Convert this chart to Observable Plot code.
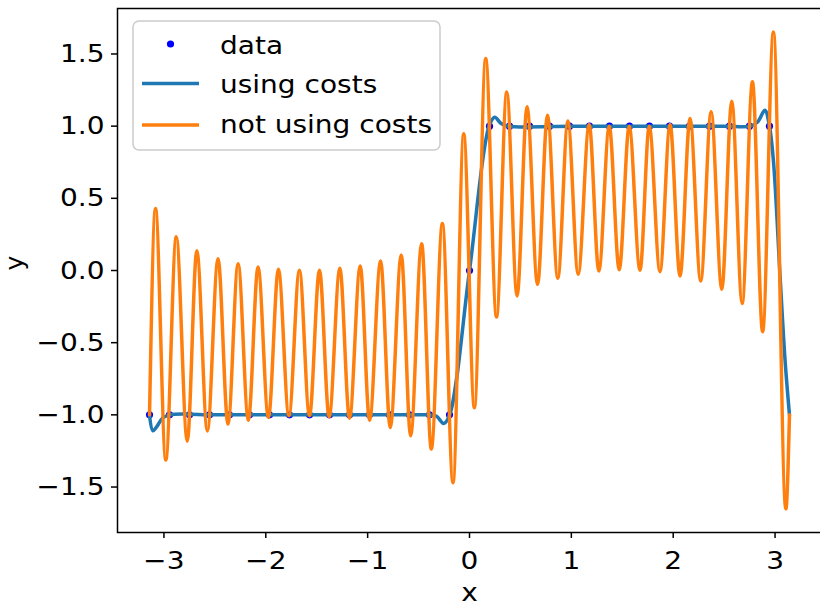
<!DOCTYPE html>
<html>
<head>
<meta charset="utf-8">
<script src="https://cdn.jsdelivr.net/npm/d3@7"></script>
<script src="https://cdn.jsdelivr.net/npm/@observablehq/plot@0.6"></script>
<style>
  html, body { margin: 0; padding: 0; background: #fff; }
  #wrap { position: relative; width: 820px; height: 605px; overflow: hidden; font-family: "DejaVu Sans", sans-serif; }
  #wrap svg { position: absolute; left: 0; top: 0; }
</style>
</head>
<body>
<div id="wrap"></div>
<script>
// ---- tick labels ----
const xTicks = [-3, -2, -1, 0, 1, 2, 3];
const yTicks = [-1.5, -1.0, -0.5, 0.0, 0.5, 1.0, 1.5];

// ---- legend labels ----
const seriesNames = ["data", "using costs", "not using costs"];
const seriesColors = ["#0000ff", "#1f77b4", "#ff7f0e"];

// ---- "data" points ----
const dataX = [-3.1416, -2.9452, -2.7489, -2.5525, -2.3562, -2.1598, -1.9635, -1.7671,
               -1.5708, -1.3744, -1.1781, -0.9817, -0.7854, -0.5890, -0.3927, -0.1963,
                0.0000,  0.1963,  0.3927,  0.5890,  0.7854,  0.9817,  1.1781,  1.3744,
                1.5708,  1.7671,  1.9635,  2.1598,  2.3562,  2.5525,  2.7489,  2.9452];
const dataY = [-1, -1, -1, -1, -1, -1, -1, -1, -1, -1, -1, -1, -1, -1, -1, -1,
                0,  1,  1,  1,  1,  1,  1,  1,  1,  1,  1,  1,  1,  1,  1,  1];

// ---- "using costs" curve ----
const costX = [-3.1416, -3.108, -3.068, -3.017, -2.945, -2.5, -2.0, -1.5, -1.0, -0.6,
               -0.391, -0.323, -0.254, -0.195, 0.0, 0.192, 0.248, 0.307, 0.376,
               1.0, 1.5, 2.0, 2.5, 2.762, 2.831, 2.900, 2.945, 2.984, 3.050, 3.099, 3.1416];
const costY = [-1.0, -1.11, -1.08, -1.025, -1.0, -1.0, -1.0, -1.0, -1.0, -1.0,
               -1.0, -1.01, -1.06, -1.0, 0.0, 1.0, 1.062, 1.02, 1.0,
               1.0, 1.0, 1.0, 1.0, 1.0, 1.03, 1.11, 1.0, 0.76, -0.05, -0.63, -1.0];

// ---- "not using costs" curve: start, peaks/troughs, end ----
const freeX = [-3.1416, -3.083, -2.982, -2.879, -2.771, -2.677, -2.574, -2.469, -2.371, -2.272,
               -2.171, -2.076, -1.974, -1.876, -1.773, -1.670, -1.571, -1.473, -1.378, -1.273,
               -1.178, -1.073, -0.981, -0.873, -0.778, -0.670, -0.578, -0.470, -0.375, -0.266,
               -0.162, -0.057, 0.048, 0.159, 0.265, 0.366, 0.467, 0.565, 0.668, 0.766,
                0.867, 0.966, 1.067, 1.175, 1.270, 1.372, 1.470, 1.568, 1.674, 1.765,
                1.870, 1.969, 2.067, 2.165, 2.270, 2.372, 2.477, 2.575, 2.677, 2.778,
                2.878, 2.984, 3.106, 3.1416];
const freeY = [-1.0, 0.43, -1.313, 0.234, -1.182, 0.137, -1.111, 0.082, -1.064, 0.047,
               -1.037, 0.024, -1.019, 0.008, -1.007, 0.002, -1.007, 0.002, -1.014, 0.015,
               -1.023, 0.031, -1.037, 0.066, -1.088, 0.107, -1.145, 0.185, -1.237, 0.325,
               -1.47, 0.947, -0.951, 1.468, -0.322, 1.237, -0.176, 1.134, -0.096, 1.076,
               -0.054, 1.035, -0.026, 1.012, -0.003, 1.0, 0.005, 1.0, 0.001, 1.0,
               -0.008, 1.012, -0.038, 1.053, -0.073, 1.099, -0.13, 1.173, -0.228, 1.307,
               -0.424, 1.653, -1.653, -1.0];

const pts = dataX.map((x, i) => ({x, y: dataY[i]}));
const cost = costX.map((x, i) => ({x, y: costY[i]}));
const free = freeX.map((x, i) => ({x, y: freeY[i]}));

const FS = 25;
const chart = Plot.plot({
  width: 820,
  height: 605,
  marginLeft: 117,
  marginRight: -1,
  marginTop: 8,
  marginBottom: 73,
  x: {domain: [-3.456, 3.456]},
  y: {domain: [-1.815, 1.815]},
  style: {fontFamily: "DejaVu Sans, sans-serif", fontSize: FS + "px", color: "#000", background: "transparent", overflow: "visible"},
  marks: [
    Plot.dot(pts, {x: "x", y: "y", r: 3.6, fill: seriesColors[0], stroke: "none"}),
    Plot.line(cost, {x: "x", y: "y", stroke: seriesColors[1], strokeWidth: 3.5, curve: "catmull-rom"}),
    Plot.line(free, {x: "x", y: "y", stroke: seriesColors[2], strokeWidth: 3.5, curve: "monotone-x"}),
    Plot.frame({stroke: "#000", strokeWidth: 1.5}),
    Plot.axisX({ticks: xTicks, tickFormat: d3.format("d"), tickSize: 6, tickPadding: 13, label: null, fontSize: FS, strokeWidth: 1.5}),
    Plot.axisY({ticks: yTicks, tickFormat: d3.format(".1f"), tickSize: 6, tickPadding: 7, label: null, fontSize: FS, strokeWidth: 1.5}),
    Plot.text(["x"], {text: d => d, frameAnchor: "bottom", dy: 60, lineAnchor: "middle", fontSize: FS}),
    Plot.text(["y"], {text: d => d, frameAnchor: "left", dx: -103, rotate: -90, lineAnchor: "middle", fontSize: FS})
  ]
});

const wrap = document.getElementById("wrap");
wrap.appendChild(chart);

// legend overlay
const NS = "http://www.w3.org/2000/svg";
const lg = document.createElementNS(NS, "svg");
lg.setAttribute("width", 820);
lg.setAttribute("height", 605);
lg.style.pointerEvents = "none";
function el(tag, attrs) {
  const e = document.createElementNS(NS, tag);
  for (const k in attrs) e.setAttribute(k, attrs[k]);
  lg.appendChild(e);
  return e;
}
el("rect", {x: 133, y: 21, width: 307, height: 129, rx: 6, fill: "#fff", "fill-opacity": 0.8, stroke: "#cccccc", "stroke-width": 1.5});
el("circle", {cx: 170.5, cy: 44, r: 3.6, fill: seriesColors[0]});
el("line", {x1: 142, x2: 199, y1: 83.5, y2: 83.5, stroke: seriesColors[1], "stroke-width": 3.5});
el("line", {x1: 142, x2: 199, y1: 125, y2: 125, stroke: seriesColors[2], "stroke-width": 3.5});
const baselines = [54, 93, 133];
seriesNames.forEach((s, i) => {
  const t = el("text", {x: 220, y: baselines[i], "font-size": FS, "font-family": "DejaVu Sans, sans-serif", fill: "#000"});
  t.textContent = s;
});
wrap.appendChild(lg);

// the reference's text is slightly wider than tall: stretch horizontally
function stretch(root, k) {
  root.querySelectorAll("text").forEach(t => {
    const tr = t.getAttribute("transform") || "";
    if (tr.includes("rotate")) return;
    const L = t.getComputedTextLength();
    if (L > 0) {
      t.setAttribute("textLength", (L * k).toFixed(2));
      t.setAttribute("lengthAdjust", "spacingAndGlyphs");
    }
  });
}
stretch(chart, 1.12);
stretch(lg, 1.12);
</script>
</body>
</html>
